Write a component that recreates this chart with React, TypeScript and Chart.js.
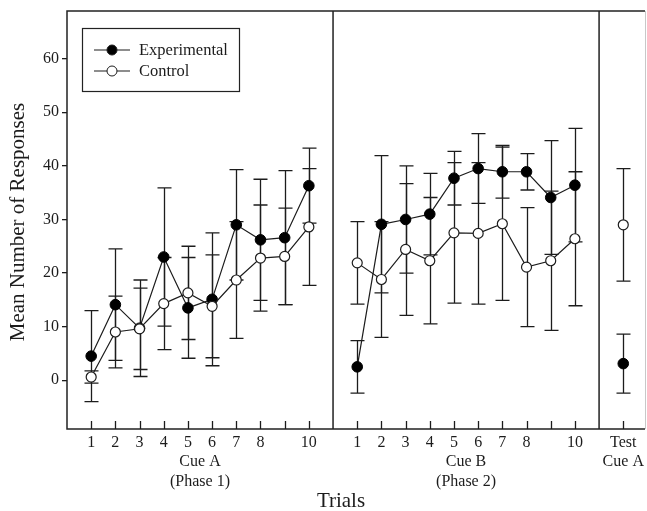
import React, { useEffect, useRef } from "react";
import { Chart, registerables } from "chart.js";

Chart.register(...registerables);

// ---- data ----
const trials = [1, 2, 3, 4, 5, 6, 7, 8, 9, 10];
const phase2Offset = 11;
const testX = 23;
const hiddenTrialLabel = 9;

const expPhase1 = [4.5, 14.1, 9.7, 23.0, 13.5, 15.1, 29.0, 26.2, 26.6, 36.3];
const expPhase1Err = [8.5, 10.4, 9.0, 12.9, 9.4, 12.4, 10.3, 11.3, 12.5, 7.0];
const ctlPhase1 = [0.6, 9.0, 9.6, 14.3, 16.3, 13.8, 18.7, 22.8, 23.1, 28.6];
const ctlPhase1Err = [1.15, 6.7, 7.6, 8.6, 8.7, 9.6, 10.9, 9.9, 9.0, 10.9];

const expPhase2 = [2.5, 29.1, 30.0, 31.0, 37.7, 39.5, 38.9, 38.9, 34.1, 36.4];
const expPhase2Err = [4.9, 12.8, 10.0, 7.6, 5.0, 6.5, 4.9, 3.4, 10.6, 10.6];
const ctlPhase2 = [21.9, 18.8, 24.4, 22.3, 27.5, 27.4, 29.2, 21.1, 22.3, 26.4];
const ctlPhase2Err = [7.7, 10.8, 12.3, 11.8, 13.1, 13.2, 14.3, 11.1, 13.0, 12.5];

const expTest = 3.1;
const expTestErr = 5.5;
const ctlTest = 29.0;
const ctlTestErr = 10.5;

const yTicks = [0, 10, 20, 30, 40, 50, 60];
const seriesNames = ["Experimental", "Control"];
const phaseLabels = [["Cue A", "(Phase 1)"], ["Cue B", "(Phase 2)"]];
const testLabel = ["Test", "Cue A"];
const xTitle = "Trials";
const yTitle = "Mean Number of Responses";

type P = { x: number; y: number | null; e?: number };

function buildSeries(p1: number[], e1: number[], p2: number[], e2: number[], t: number, te: number): P[] {
  const pts: P[] = [];
  trials.forEach((tr, i) => pts.push({ x: tr, y: p1[i], e: e1[i] }));
  pts.push({ x: phase2Offset, y: null });
  trials.forEach((tr, i) => pts.push({ x: tr + phase2Offset, y: p2[i], e: e2[i] }));
  pts.push({ x: 2 * phase2Offset, y: null });
  pts.push({ x: testX, y: t, e: te });
  return pts;
}

const expData = buildSeries(expPhase1, expPhase1Err, expPhase2, expPhase2Err, expTest, expTestErr);
const ctlData = buildSeries(ctlPhase1, ctlPhase1Err, ctlPhase2, ctlPhase2Err, ctlTest, ctlTestErr);

const xTickValues = [
  ...trials,
  ...trials.map((t) => t + phase2Offset),
  testX,
];

const FONT = "'Liberation Serif', 'Times New Roman', serif";
const INK = "#1c1c1c";

const errorBarPlugin = {
  id: "errorBars",
  beforeDatasetsDraw(chart: any) {
    const ctx = chart.ctx;
    const x = chart.scales.x;
    const y = chart.scales.y;
    ctx.save();
    ctx.strokeStyle = INK;
    ctx.lineWidth = 1.3;
    chart.data.datasets.forEach((ds: any) => {
      ds.data.forEach((p: P) => {
        if (p.y == null || p.e == null) return;
        const px = Math.round(x.getPixelForValue(p.x)) + 0.5;
        const top = y.getPixelForValue(p.y + p.e);
        const bot = y.getPixelForValue(p.y - p.e);
        ctx.beginPath();
        ctx.moveTo(px, top);
        ctx.lineTo(px, bot);
        ctx.moveTo(px - 7, top);
        ctx.lineTo(px + 7, top);
        ctx.moveTo(px - 7, bot);
        ctx.lineTo(px + 7, bot);
        ctx.stroke();
      });
    });
    ctx.restore();
  },
};

const framePlugin = {
  id: "frame",
  afterDraw(chart: any) {
    const ctx = chart.ctx;
    const { left, right, top, bottom } = chart.chartArea;
    const x = chart.scales.x;
    ctx.save();
    // frame
    ctx.strokeStyle = "#222";
    ctx.lineWidth = 1.5;
    ctx.beginPath();
    ctx.moveTo(right - 1, top);
    ctx.lineTo(left, top);
    ctx.lineTo(left, bottom);
    ctx.lineTo(right - 1, bottom);
    const d1 = x.getPixelForValue(phase2Offset);
    const d2 = x.getPixelForValue(2 * phase2Offset);
    ctx.moveTo(d1, top);
    ctx.lineTo(d1, bottom);
    ctx.moveTo(d2, top);
    ctx.lineTo(d2, bottom);
    ctx.stroke();
    ctx.strokeStyle = "#c8c8c8";
    ctx.lineWidth = 1;
    ctx.beginPath();
    ctx.moveTo(right - 0.5, top);
    ctx.lineTo(right - 0.5, bottom);
    ctx.stroke();

    // inward x tick marks
    ctx.strokeStyle = INK;
    ctx.lineWidth = 1.3;
    ctx.beginPath();
    xTickValues.forEach((v) => {
      const px = Math.round(x.getPixelForValue(v)) + 0.5;
      ctx.moveTo(px, bottom);
      ctx.lineTo(px, bottom - 8);
    });
    ctx.stroke();

    // phase labels
    ctx.fillStyle = INK;
    ctx.font = `16px ${FONT}`;
    ctx.textAlign = "center";
    ctx.textBaseline = "middle";
    const centers = [x.getPixelForValue(phase2Offset / 2), x.getPixelForValue(phase2Offset * 1.5)];
    phaseLabels.forEach((lines, i) => {
      ctx.fillText(lines[0], centers[i], 462);
      ctx.fillText(lines[1], centers[i], 482);
    });

    // axis titles
    ctx.font = `21px ${FONT}`;
    ctx.fillText(xTitle, 341, 501);
    ctx.save();
    ctx.translate(18, (top + bottom) / 2 + 2);
    ctx.rotate(-Math.PI / 2);
    ctx.fillText(yTitle, 0, 0);
    ctx.restore();

    // legend
    ctx.strokeStyle = "#222";
    ctx.lineWidth = 1.2;
    ctx.strokeRect(82.5, 28.5, 157, 63);
    const rows = [50, 71];
    rows.forEach((ry, i) => {
      ctx.strokeStyle = INK;
      ctx.lineWidth = 1.2;
      ctx.beginPath();
      ctx.moveTo(94, ry);
      ctx.lineTo(130, ry);
      ctx.stroke();
      ctx.beginPath();
      ctx.arc(112, ry, 5, 0, Math.PI * 2);
      ctx.fillStyle = i === 0 ? "#000" : "#fff";
      ctx.fill();
      ctx.lineWidth = 1;
      ctx.stroke();
      ctx.fillStyle = INK;
      ctx.font = `16.5px ${FONT}`;
      ctx.textAlign = "left";
      ctx.fillText(seriesNames[i], 139, ry + 1);
    });
    ctx.restore();
  },
};

export default function App() {
  const ref = useRef<HTMLCanvasElement | null>(null);
  useEffect(() => {
    if (!ref.current) return;
    const chart = new Chart(ref.current, {
      type: "line",
      data: {
        datasets: [
          {
            label: seriesNames[1],
            data: ctlData as any,
            borderColor: INK,
            borderWidth: 1.2,
            pointRadius: 5,
            pointBackgroundColor: "#fff",
            pointBorderColor: INK,
            pointBorderWidth: 1.2,
            spanGaps: false,
            order: 0,
          },
          {
            label: seriesNames[0],
            data: expData as any,
            borderColor: INK,
            borderWidth: 1.2,
            pointRadius: 5.3,
            pointBackgroundColor: "#000",
            pointBorderColor: "#000",
            pointBorderWidth: 1,
            spanGaps: false,
            order: 1,
          },
        ],
      },
      options: {
        animation: false,
        responsive: false,
        layout: { autoPadding: false, padding: { left: 0, top: 11, right: 1, bottom: 0 } },
        plugins: { legend: { display: false }, tooltip: { enabled: false } },
        scales: {
          x: {
            type: "linear",
            min: 0,
            max: 23.94,
            afterBuildTicks: (s: any) => {
              s.ticks = xTickValues.map((v) => ({ value: v }));
            },
            afterFit: (s: any) => {
              s.height = 82;
              s.paddingLeft = 0;
              s.paddingRight = 0;
            },
            grid: { display: false, drawTicks: false },
            border: { display: false },
            ticks: {
              autoSkip: false,
              maxRotation: 0,
              padding: 4,
              color: INK,
              font: { family: FONT, size: 16 },
              callback: (v: any) => {
                const n = Number(v);
                if (n === testX) return testLabel;
                const t = n > phase2Offset ? n - phase2Offset : n;
                return t === hiddenTrialLabel ? "" : String(t);
              },
            },
          },
          y: {
            min: -9.1,
            max: 68.9,
            afterBuildTicks: (s: any) => {
              s.ticks = yTicks.map((v) => ({ value: v }));
            },
            afterFit: (s: any) => {
              s.width = 67;
              s.paddingTop = 0;
              s.paddingBottom = 0;
            },
            grid: { drawOnChartArea: false, tickLength: 5, color: INK, lineWidth: 1.3 },
            border: { display: false },
            ticks: {
              padding: 3,
              color: INK,
              font: { family: FONT, size: 16 },
            },
          },
        },
      },
      plugins: [errorBarPlugin, framePlugin],
    });
    return () => chart.destroy();
  }, []);
  return (
    <div style={{ position: "fixed", left: 0, top: 0, width: 647, height: 511, background: "#fff" }}>
      <canvas ref={ref} width={647} height={511} style={{ display: "block" }} />
    </div>
  );
}
